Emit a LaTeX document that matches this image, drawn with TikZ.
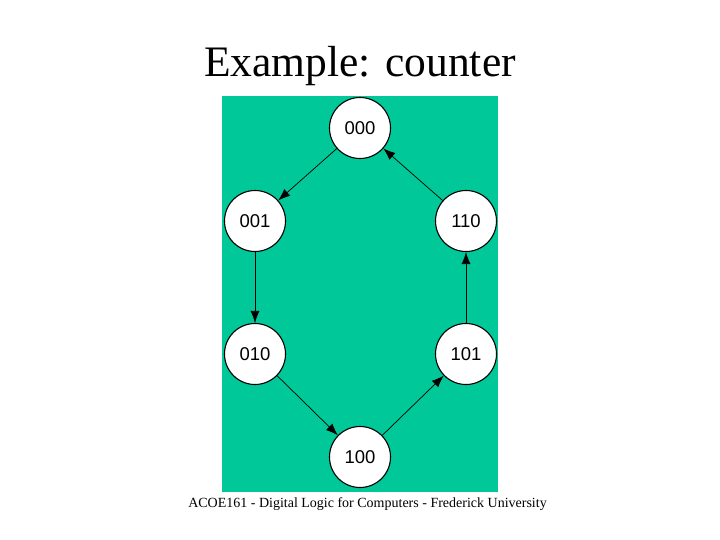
\documentclass[tikz,border=0pt]{standalone}
\usepackage{fontspec}
\setmainfont{Liberation Serif}
\newfontfamily\arialf{Liberation Sans}
\usetikzlibrary{arrows.meta}
\definecolor{bgreen}{RGB}{0,200,152}
\begin{document}
\begin{tikzpicture}[x=1pt,y=-1pt,
  state/.style={circle,draw=black,line width=1.1pt,fill=white,minimum size=61pt,inner sep=0pt,font=\arialf\fontsize{18.5}{20}\selectfont},
  trans/.style={-{Latex[length=12pt,width=9pt]},line width=0.7pt}]
\useasboundingbox (0,0) rectangle (720,540);
\fill[white] (0,0) rectangle (720,540);
\fill[bgreen] (222,96) rectangle (498,492);
\node[font=\fontsize{43.5}{46}\selectfont] (title) at (360,66) {Example: counter};
\node[font=\fontsize{14}{16}\selectfont] (foot) at (367.5,504) {ACOE161 - Digital Logic for Computers - Frederick University};
\node[state] (s000) at (360,128) {000};
\node[state] (s001) at (255,221) {001};
\node[state] (s110) at (466,221) {110};
\node[state] (s010) at (255,354) {010};
\node[state] (s101) at (466,354) {101};
\node[state] (s100) at (360,457) {100};
\draw[trans] (s000) -- (s001);
\draw[trans] (s001) -- (s010);
\draw[trans] (s010) -- (s100);
\draw[trans] (s100) -- (s101);
\draw[trans] (s101) -- (s110);
\draw[trans] (s110) -- (s000);
\end{tikzpicture}
\end{document}
